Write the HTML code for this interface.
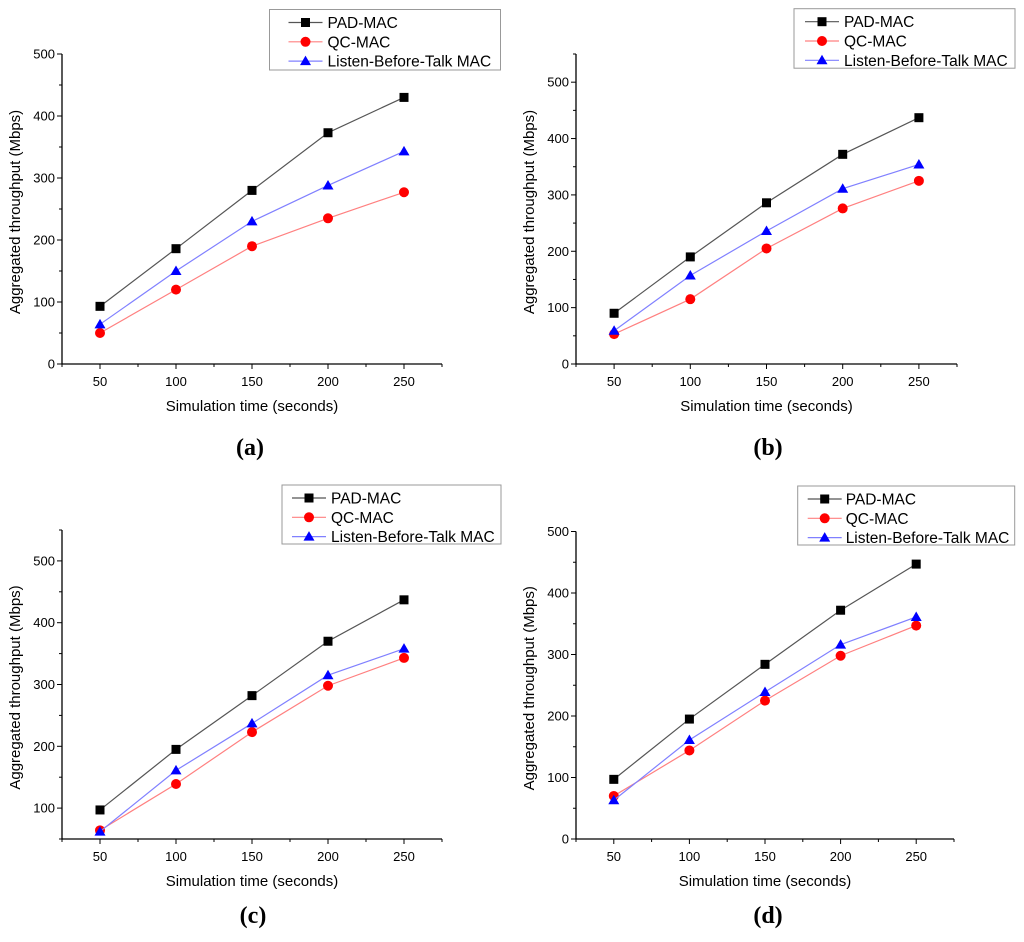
<!DOCTYPE html>
<html><head><meta charset="utf-8"><style>
body{margin:0;background:#fff;}
svg{display:block;font-family:"Liberation Sans",sans-serif;}
</style></head><body>
<svg id="fig" width="1024" height="942" viewBox="0 0 1024 942"></svg>
<script>
const xCategories=[50,100,150,200,250];
const seriesNames=["PAD-MAC","QC-MAC","Listen-Before-Talk MAC"];
const padA=[93,186,280,373,430];
const qcA=[50,120,190,235,277];
const lbtA=[64,150,230,288,343];
const padB=[90,190,286,372,437];
const qcB=[53,115,205,276,325];
const lbtB=[59,157,236,311,354];
const padC=[97,195,282,370,437];
const qcC=[64,139,223,298,343];
const lbtC=[62,161,237,315,358];
const padD=[97,195,284,372,447];
const qcD=[70,144,225,298,347];
const lbtD=[63,161,239,316,361];
const yTicksA=[0,100,200,300,400,500];
const yTicksB=[0,100,200,300,400,500];
const yTicksC=[100,200,300,400,500];
const yTicksD=[0,100,200,300,400,500];
const captions=["(a)","(b)","(c)","(d)"];

const NS="http://www.w3.org/2000/svg";
const svg=document.getElementById('fig');
function mk(tag,attrs,parent){const e=document.createElementNS(NS,tag);for(const k in attrs)e.setAttribute(k,attrs[k]);(parent||svg).appendChild(e);return e;}

const panels=[
 {L:62,R:442,T:54,B:364,ymin:0,ymax:500,data:[padA,qcA,lbtA],ticks:yTicksA,leg:[269.5,9.5,231,60.5],lm:36,lt:58,cap:[250,447],name:'a'},
 {L:576,R:957,T:54,B:364,ymin:0,ymax:550,data:[padB,qcB,lbtB],ticks:yTicksB,leg:[794,8.7,221,59.5],lm:28,lt:50,cap:[768,447],name:'b'},
 {L:62,R:442,T:530,B:839,ymin:50,ymax:550,data:[padC,qcC,lbtC],ticks:yTicksC,leg:[282,485,219,59],lm:27,lt:49,cap:[253,915],name:'c'},
 {L:576,R:954,T:531.5,B:839,ymin:0,ymax:500,data:[padD,qcD,lbtD],ticks:yTicksD,leg:[797.7,486,217,59],lm:27,lt:48,cap:[768,915],name:'d'}
];
const lineCol=["#555555","#ff8080","#8080ff"];
const markCol=["#000000","#ff0000","#0000ff"];

function marker(g,k,x,y){
  let m;
  if(k===0) m=mk('rect',{x:x-4.5,y:y-4.5,width:9,height:9,fill:markCol[0]},g);
  else if(k===1) m=mk('circle',{cx:x,cy:y,r:5,fill:markCol[1]},g);
  else m=mk('polygon',{points:`${x},${y-5.5} ${x+5.5},${y+4} ${x-5.5},${y+4}`,fill:markCol[2]},g);
  return m;
}

panels.forEach(p=>{
  const g=mk('g',{});
  
  
  const xs=v=>p.L+(v-25)/250*(p.R-p.L);
  const ys=v=>p.B-(v-p.ymin)/(p.ymax-p.ymin)*(p.B-p.T);
  const ax=mk('path',{d:`M${p.L},${p.T}V${p.B}H${p.R}`,stroke:'#000',fill:'none','stroke-width':1.3},g);
  
  
  for(let v=p.ymin;v<=p.ymax+0.1;v+=50){
    const major=v%100===0;
    mk('line',{x1:p.L-(major?5:3),x2:p.L,y1:ys(v),y2:ys(v),stroke:'#000','stroke-width':1},g);
  }
  p.ticks.forEach(v=>{
    const t=mk('text',{x:p.L-7,y:ys(v)+4.5,'text-anchor':'end','font-size':13,fill:'#000'},g);
    t.textContent=v;
    
    
  });
  for(let v=25;v<=275;v+=25){
    const major=v%50===0;
    mk('line',{x1:xs(v),x2:xs(v),y1:p.B,y2:p.B+(major?5:3),stroke:'#000','stroke-width':1},g);
  }
  xCategories.forEach(v=>{
    const t=mk('text',{x:xs(v),y:p.B+22,'text-anchor':'middle','font-size':13,fill:'#000'},g);
    t.textContent=v;
    
    
  });
  const xt=mk('text',{x:(p.L+p.R)/2,y:p.B+47,'text-anchor':'middle','font-size':15,fill:'#000'},g);
  xt.textContent='Simulation time (seconds)';
  
  
  const cy=(p.T+p.B)/2+3;
  const yt=mk('text',{x:p.L-42,y:cy,'text-anchor':'middle','font-size':15,fill:'#000',transform:`rotate(-90 ${p.L-42} ${cy})`},g);
  yt.textContent='Aggregated throughput (Mbps)';
  
  
  p.data.forEach((arr,k)=>{
    const pts=arr.map((v,i)=>xs(xCategories[i])+','+ys(v)).join(' ');
    const pl=mk('polyline',{points:pts,fill:'none',stroke:lineCol[k],'stroke-width':1.2},g);
    
    
    arr.forEach((v,i)=>{
      const m=marker(g,k,xs(xCategories[i]),ys(v));
      
      
    });
  });
  const [lx,ly,lw,lh]=p.leg;
  const lg=mk('g',{},g);
  
  
  mk('rect',{x:lx,y:ly,width:lw,height:lh,fill:'#fff',stroke:'#999','stroke-width':1},lg);
  seriesNames.forEach((n,k)=>{
    const ey=ly+13+k*19.3;
    mk('line',{x1:lx+p.lm-17,x2:lx+p.lm+17,y1:ey,y2:ey,stroke:lineCol[k],'stroke-width':1.2},lg);
    marker(lg,k,lx+p.lm,ey);
    const t=mk('text',{x:lx+p.lt,y:ey+5.5,'font-size':15.5,fill:'#000'},lg);
    t.textContent=n;
    
    
  });
  const c=mk('text',{x:p.cap[0],y:p.cap[1]+8,'text-anchor':'middle','font-size':24,'font-weight':'bold','font-family':'Liberation Serif, serif',fill:'#000'},g);
  c.textContent=captions[['a','b','c','d'].indexOf(p.name)];
  
  
});
</script>
</body></html>
